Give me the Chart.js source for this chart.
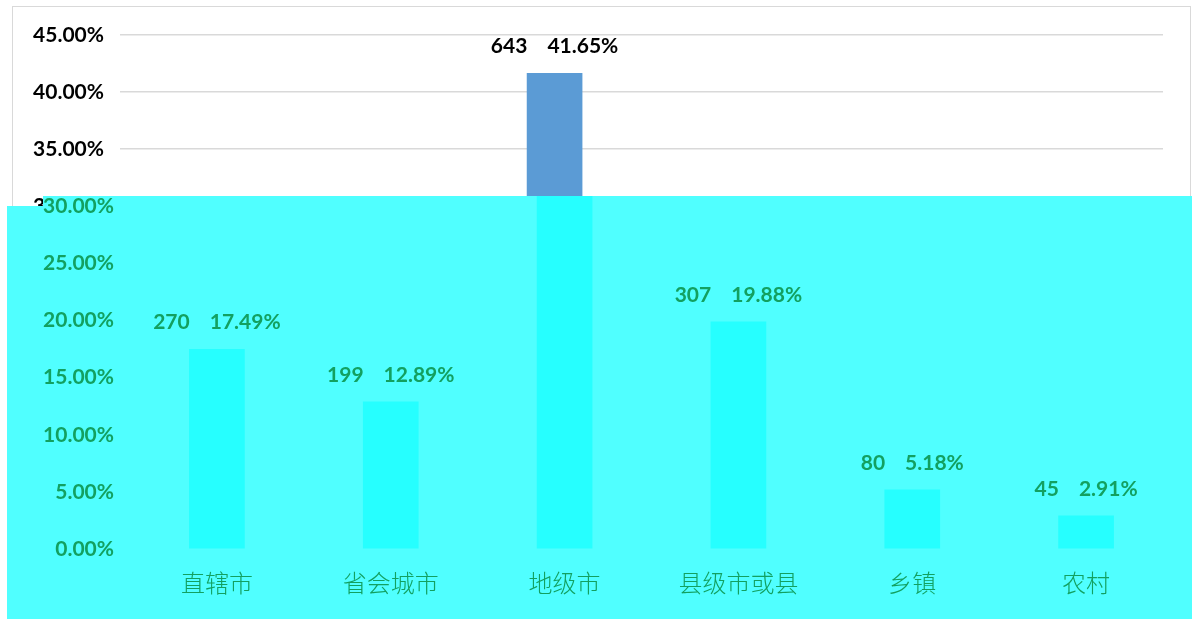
<!DOCTYPE html>
<html lang="zh">
<head>
<meta charset="UTF-8">
<title>城市层级分布</title>
<script src="https://cdn.jsdelivr.net/npm/chart.js@4.4.0/dist/chart.umd.min.js"></script>
<style>
  body { margin: 0; background: #fff; }
  #frame { position: absolute; left: 12px; top: 6px; width: 1179px; height: 640px; border: 1px solid #d9d9d9; box-sizing: border-box; }
  #main { position: absolute; left: 0; top: 0; }
  #cover { position: absolute; left: 7px; top: 196px; width: 1185px; height: 423px; overflow: hidden; background: #50ffff;
           clip-path: polygon(36px 0, 100% 0, 100% 100%, 0 100%, 0 10px, 36px 10px); }
  #shifted { position: absolute; left: 3px; top: -196px; }
</style>
</head>
<body>
<div id="frame"></div>
<canvas id="main" width="1192" height="619"></canvas>
<div id="cover"><canvas id="shifted" width="1192" height="619"></canvas></div>
<script>
const categories = ['直辖市', '省会城市', '地级市', '县级市或县', '乡镇', '农村'];
const counts = [270, 199, 643, 307, 80, 45];
const shares = [17.49, 12.89, 41.65, 19.88, 5.18, 2.91];
const yMax = 45;
const yStep = 5;

const numFont = 'Lato, "Open Sans", sans-serif';

// draws "count   share%" above each bar
const barLabels = {
  id: 'barLabels',
  afterDatasetsDraw(chart, args, opts) {
    const ctx = chart.ctx;
    const bars = chart.getDatasetMeta(0).data;
    ctx.save();
    ctx.font = 'bold 21px ' + numFont;
    ctx.fillStyle = opts.color;
    ctx.textBaseline = 'middle';
    ctx.textAlign = 'left';
    bars.forEach((bar, i) => {
      const a = String(counts[i]);
      const b = shares[i].toFixed(2) + '%';
      const gap = 20;
      const wa = ctx.measureText(a).width;
      const wb = ctx.measureText(b).width;
      let x = bar.x - (wa + gap + wb) / 2;
      const y = bar.y - 27;
      ctx.fillText(a, x, y);
      ctx.fillText(b, x + wa + gap, y);
    });
    ctx.restore();
  }
};

function makeChart(id, look) {
  const ctx = document.getElementById(id).getContext('2d');
  return new Chart(ctx, {
    type: 'bar',
    data: {
      labels: categories,
      datasets: [{
        data: shares,
        backgroundColor: look.bar,
        barThickness: 55
      }]
    },
    options: {
      responsive: false,
      animation: false,
      layout: { padding: { top: 35, right: 29, left: 0, bottom: 0 } },
      plugins: {
        legend: { display: false },
        tooltip: { enabled: false },
        barLabels: { color: look.text }
      },
      scales: {
        x: {
          grid: { display: false, drawTicks: false },
          border: { display: false },
          ticks: {
            color: look.text,
            padding: 19,
            font: { family: '"Noto Sans CJK SC", sans-serif', size: 24, weight: 300 }
          },
          afterFit(scale) { scale.height = 70; }
        },
        y: {
          min: 0,
          max: yMax,
          grid: { color: look.grid, lineWidth: 1.5, drawTicks: false },
          border: { display: false },
          ticks: {
            stepSize: yStep,
            color: look.text,
            padding: 16,
            font: { family: numFont, size: 21, weight: 'bold' },
            callback: v => v.toFixed(2) + '%'
          },
          afterFit(scale) { scale.width = 120; }
        }
      }
    },
    plugins: [barLabels]
  });
}

makeChart('main', { bar: '#5b9bd5', text: '#000000', grid: '#d9d9d9' });
makeChart('shifted', { bar: '#26ffff', text: '#13a060', grid: 'rgba(0,0,0,0)' });
</script>
</body>
</html>
